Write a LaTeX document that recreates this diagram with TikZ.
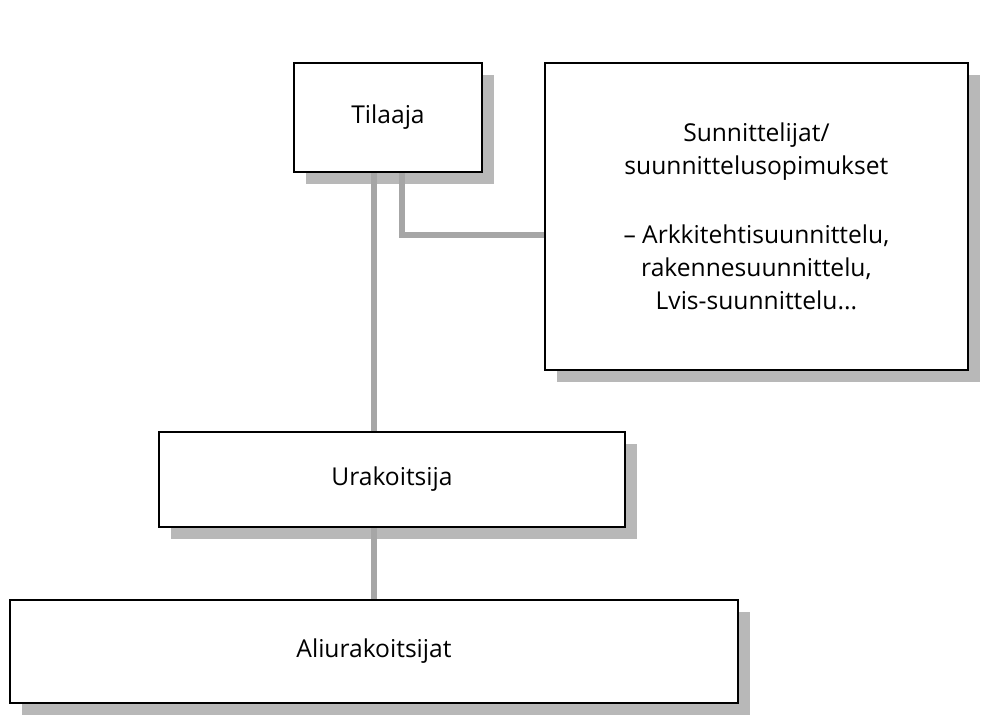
\documentclass[tikz,border=0pt]{standalone}
\usepackage{fontspec}
\setmainfont{Open Sans}
\usetikzlibrary{shadows}
\tikzset{
	orgbox/.style={draw, line width=1.3pt, fill=white, align=center,
		font=\fontsize{17.5}{23.4}\selectfont,
		drop shadow={shadow xshift=0.3cm, shadow yshift=-0.3cm, fill=black!28, opacity=1}},
	link/.style={draw=black!35, line width=0.15cm}
}
\begin{document}
\begin{tikzpicture}
	\useasboundingbox (0,0) rectangle (25.2,17.95);
	\node[orgbox, minimum width=4.7cm, minimum height=2.725cm] (tilaaja) at (9.7,15.01) {Tilaaja};
	\node[orgbox, minimum width=10.575cm, minimum height=7.675cm] (suunn) at (18.91,12.54) {Sunnittelijat/\\suunnittelusopimukset\\[26pt]-- Arkkitehtisuunnittelu,\\rakennesuunnittelu,\\Lvis-suunnittelu...};
	\node[orgbox, minimum width=11.65cm, minimum height=2.375cm] (urak) at (9.8,5.96) {Urakoitsija};
	\node[orgbox, minimum width=18.2cm, minimum height=2.575cm] (ali) at (9.35,1.66) {Aliurakoitsijat};
	\coordinate (mutka) at (10.05,12.075);
	\draw[link] (tilaaja.south -| ali.north) -- (urak.north -| ali.north);
	\draw[link] (urak.south -| ali.north) -- (ali.north);
	\draw[link] (tilaaja.south -| mutka) -- (mutka) -- (mutka -| suunn.west);
\end{tikzpicture}
\end{document}
